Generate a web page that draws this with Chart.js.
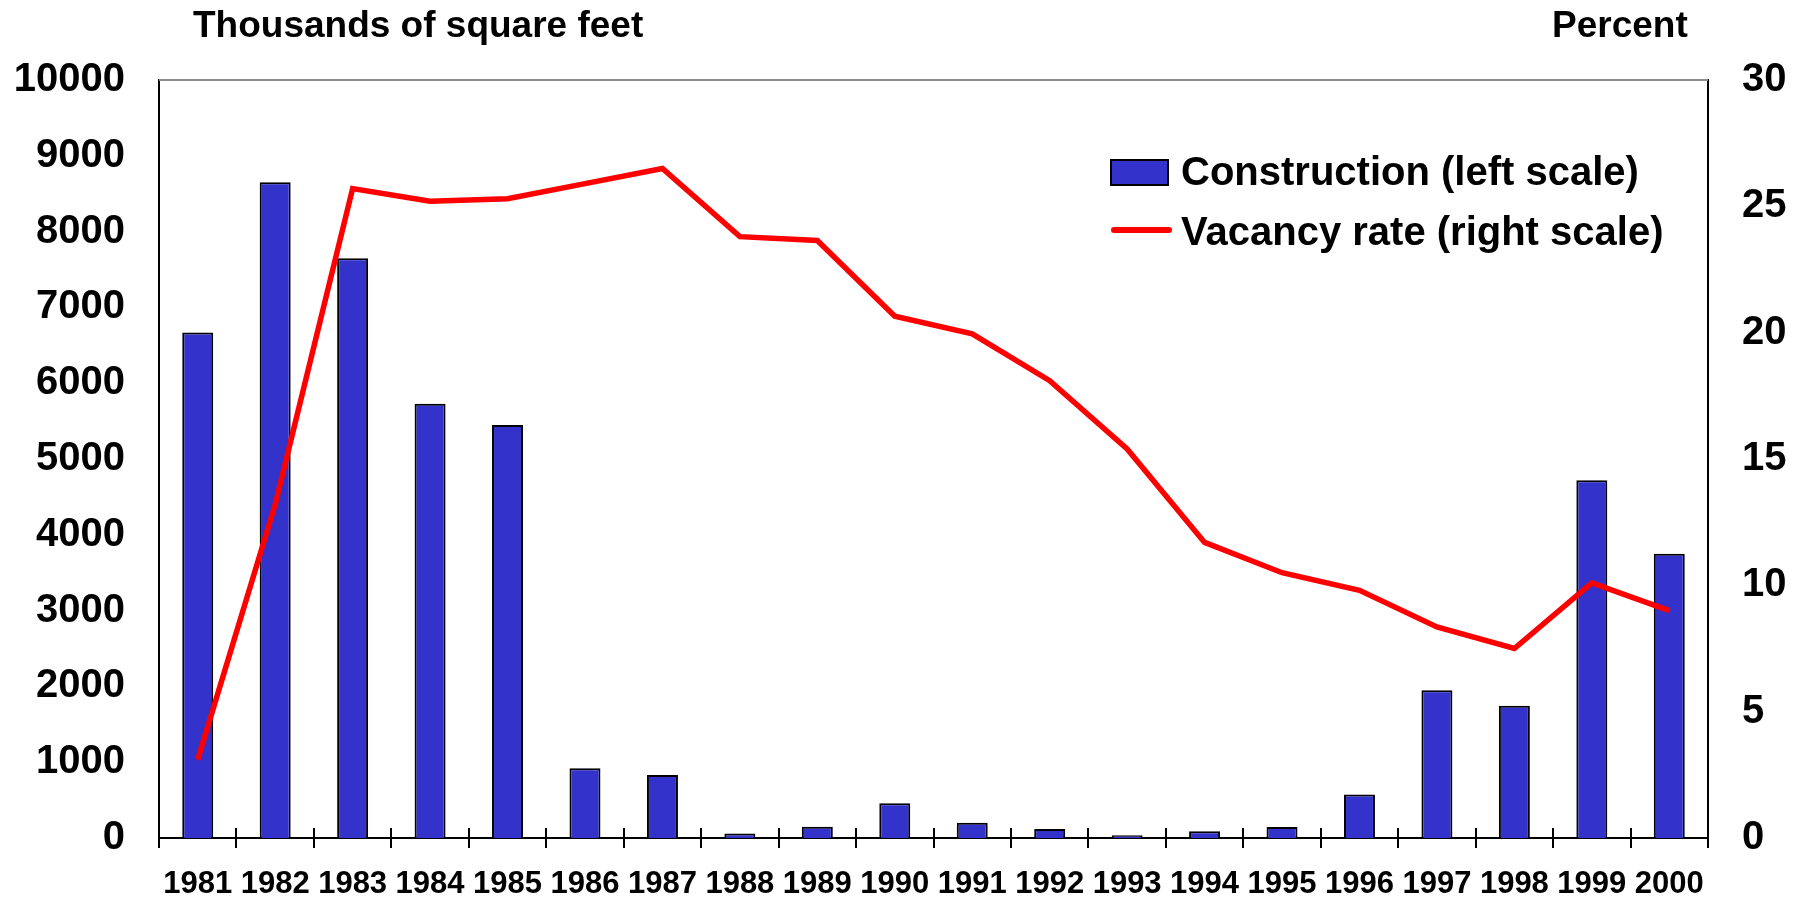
<!DOCTYPE html>
<html>
<head>
<meta charset="utf-8">
<script src="https://cdn.jsdelivr.net/npm/chart.js@4/dist/chart.umd.min.js"></script>
<style>
  html, body { margin: 0; padding: 0; background: #ffffff; }
  #wrap { width: 1805px; height: 902px; position: relative; }
</style>
</head>
<body>
<div id="wrap"><canvas id="chart"></canvas></div>
<script>
const YEARS = ["1981", "1982", "1983", "1984", "1985", "1986", "1987", "1988", "1989", "1990",
  "1991", "1992", "1993", "1994", "1995", "1996", "1997", "1998", "1999", "2000"];

// thousands of square feet
const CONSTRUCTION = [6670, 8650, 7650, 5730, 5450, 920, 830, 60, 150, 460,
  200, 120, 35, 90, 145, 575, 1950, 1745, 4720, 3750];

// percent
const VACANCY = [3.1, 13.2, 25.7, 25.2, 25.3, 25.9, 26.5, 23.8, 23.65, 20.65,
  19.95, 18.1, 15.4, 11.7, 10.5, 9.8, 8.35, 7.5, 10.1, 9.0];

const LEFT_TITLE = "Thousands of square feet";
const RIGHT_TITLE = "Percent";
const LEGEND_LABELS = ["Construction (left scale)", "Vacancy rate (right scale)"];

const FONT = "'Liberation Sans', Arial, sans-serif";
const BAR_COLOR = "#3333cc";
const LINE_COLOR = "#ff0000";

// titles, top frame line, crossing tick marks and the legend
const decorPlugin = {
  id: "decor",
  afterDraw(chart) {
    const ctx = chart.ctx;
    const area = chart.chartArea;
    const xScale = chart.scales.x;

    ctx.save();

    // top frame line
    ctx.strokeStyle = "#8c8c8c";
    ctx.lineWidth = 2;
    ctx.beginPath();
    ctx.moveTo(area.left, area.top);
    ctx.lineTo(area.right, area.top);
    ctx.stroke();

    // upper half of the cross tick marks
    ctx.strokeStyle = "#000000";
    ctx.lineWidth = 2;
    for (let i = 1; i < YEARS.length; i++) {
      const x = Math.round(xScale.getPixelForValue(i - 0.5));
      ctx.beginPath();
      ctx.moveTo(x, area.bottom);
      ctx.lineTo(x, area.bottom - 10);
      ctx.stroke();
    }

    // axis titles
    ctx.fillStyle = "#000000";
    ctx.font = "bold 37px " + FONT;
    ctx.textBaseline = "alphabetic";
    ctx.textAlign = "left";
    ctx.fillText(LEFT_TITLE, 193, 37);
    ctx.fillText(RIGHT_TITLE, 1552, 37);

    // legend
    ctx.fillStyle = BAR_COLOR;
    ctx.fillRect(1111, 160, 57, 25);
    ctx.strokeStyle = "#000000";
    ctx.lineWidth = 2;
    ctx.strokeRect(1111, 160, 57, 25);

    ctx.strokeStyle = LINE_COLOR;
    ctx.lineWidth = 6;
    ctx.lineCap = "round";
    ctx.beginPath();
    ctx.moveTo(1114, 230);
    ctx.lineTo(1169, 230);
    ctx.stroke();

    ctx.fillStyle = "#000000";
    ctx.font = "bold 40px " + FONT;
    ctx.fillText(LEGEND_LABELS[0], 1181, 185);
    ctx.fillText(LEGEND_LABELS[1], 1181, 245);

    ctx.restore();
  }
};

new Chart(document.getElementById("chart"), {
  data: {
    labels: YEARS,
    datasets: [
      {
        type: "line",
        label: LEGEND_LABELS[1],
        data: VACANCY,
        yAxisID: "y1",
        borderColor: LINE_COLOR,
        borderWidth: 5.5,
        pointRadius: 0,
        tension: 0,
        fill: false,
        order: 0,
      },
      {
        type: "bar",
        label: LEGEND_LABELS[0],
        data: CONSTRUCTION,
        yAxisID: "y",
        backgroundColor: BAR_COLOR,
        borderColor: "#000000",
        borderWidth: 2,
        borderSkipped: "bottom",
        barPercentage: 0.4,
        categoryPercentage: 1.0,
        order: 1,
      },
    ],
  },
  options: {
    responsive: true,
    maintainAspectRatio: false,
    animation: false,
    layout: { padding: { top: 80, left: 0, right: 0, bottom: 0 } },
    plugins: {
      legend: { display: false },
      tooltip: { enabled: false },
    },
    scales: {
      x: {
        offset: true,
        afterFit(scale) { scale.height = 64; },
        border: { display: true, color: "#000000", width: 2 },
        grid: {
          offset: true,
          drawOnChartArea: false,
          drawTicks: true,
          tickLength: 10,
          color: "#000000",
          lineWidth: 2,
        },
        ticks: {
          color: "#000000",
          font: { family: FONT, size: 31, weight: "bold" },
          padding: 18,
          maxRotation: 0,
          autoSkip: false,
        },
      },
      y: {
        position: "left",
        min: 0,
        max: 10000,
        afterFit(scale) { scale.width = 159; },
        border: { display: true, color: "#000000", width: 2 },
        grid: { display: false, drawTicks: false },
        ticks: {
          stepSize: 1000,
          color: "#000000",
          font: { family: FONT, size: 40, weight: "bold" },
          padding: 34,
          callback: (v) => String(v),
        },
      },
      y1: {
        position: "right",
        min: 0,
        max: 30,
        afterFit(scale) { scale.width = 97; },
        border: { display: true, color: "#000000", width: 2 },
        grid: { display: false, drawTicks: false },
        ticks: {
          stepSize: 5,
          color: "#000000",
          font: { family: FONT, size: 40, weight: "bold" },
          padding: 34,
          callback: (v) => String(v),
        },
      },
    },
  },
  plugins: [decorPlugin],
});
</script>
</body>
</html>
